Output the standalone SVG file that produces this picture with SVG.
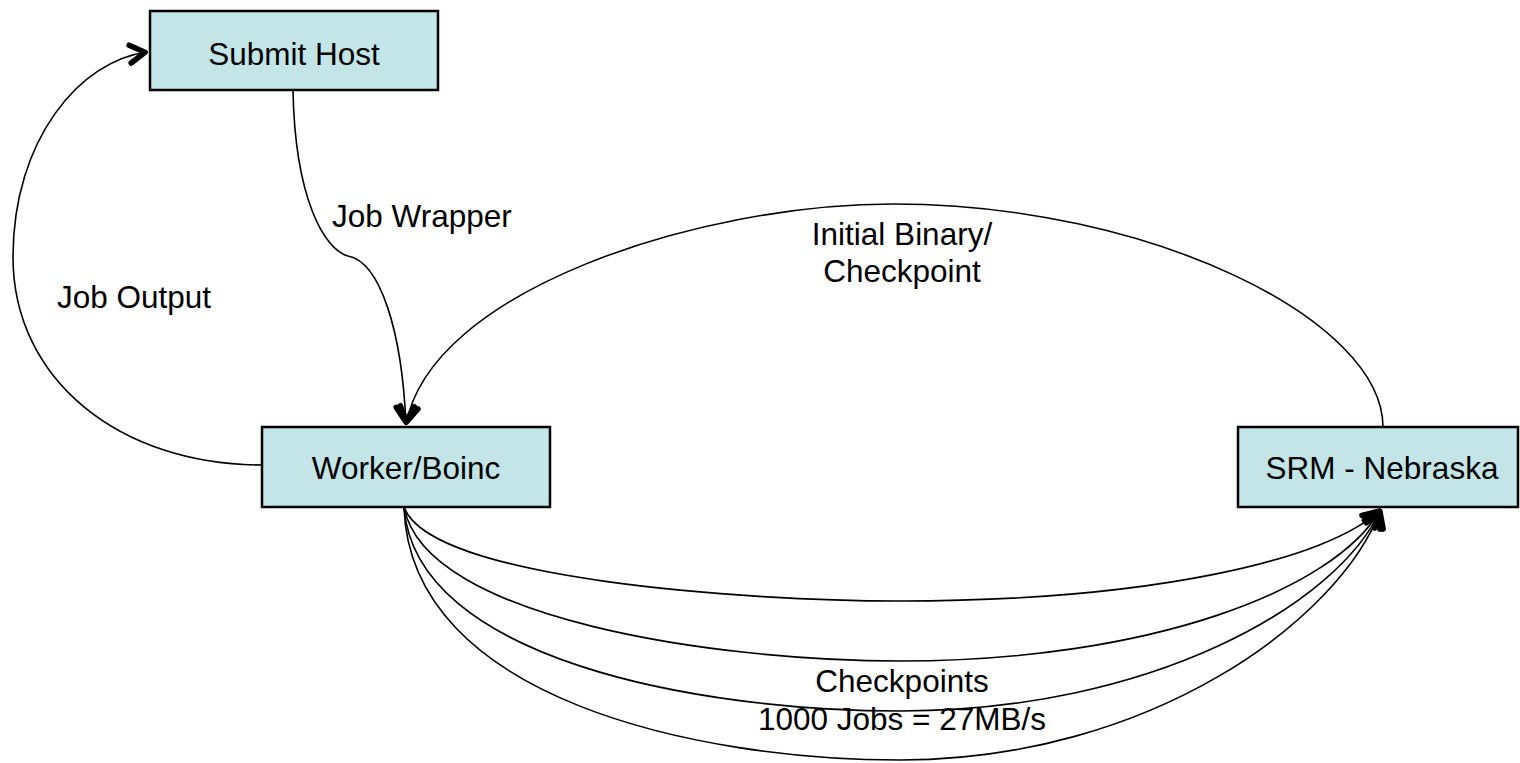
<svg xmlns="http://www.w3.org/2000/svg" width="1520" height="763" viewBox="0 0 1520 763">
  <style>
    .box { fill: #c4e5e8; stroke: #000; stroke-width: 2.5; }
    .lbl { font-family: "Liberation Sans", Arial, sans-serif; font-size: 31.5px; fill: #000; }
    .mid { text-anchor: middle; }
    .conn { fill: none; stroke: #000; stroke-width: 1.6; }
  </style>
  <defs>
    <marker id="arrow" markerUnits="userSpaceOnUse" viewBox="-26 -14 30 28" refX="0" refY="0" markerWidth="30" markerHeight="28" orient="auto" overflow="visible">
      <path d="M-18,-9 L-3,0 L-18,9" fill="none" stroke="#000" stroke-width="5.5" stroke-linejoin="round" stroke-linecap="round"/>
    </marker>
  </defs>
  <rect width="1520" height="763" fill="#fff"/>

  <g id="connectors">
    <path id="job-wrapper" class="conn" d="M293,90 C295,200 325,250 348,256 C380,262 402,330 406,425" marker-end="url(#arrow)"/>
    <path id="job-output" class="conn" d="M262,465 C120,465 13,380 13,257 C13,140 80,60 148,52" marker-end="url(#arrow)"/>
    <path id="initial-binary" class="conn" d="M1383,427 C1383,320 1150,204 893,204 C700,204 430,290 406,425" marker-end="url(#arrow)"/>
    <path id="checkpoint-1" class="conn" d="M404,507 C430,580 750,601 900,601 C1150,601 1330,560 1381,509" marker-end="url(#arrow)"/>
    <path id="checkpoint-2" class="conn" d="M404,507 C425,620 720,661 900,661 C1150,661 1335,590 1381,509" marker-end="url(#arrow)"/>
    <path id="checkpoint-3" class="conn" d="M404,507 C415,660 700,711 900,711 C1150,711 1338,605 1381,509" marker-end="url(#arrow)"/>
    <path id="checkpoint-4" class="conn" d="M404,507 C410,700 700,760 900,760 C1150,760 1340,620 1381,509" marker-end="url(#arrow)"/>
  </g>

  <g id="submit-host">
    <rect class="box" x="150" y="11" width="288" height="79"/>
    <text class="lbl mid" x="294" y="65">Submit Host</text>
  </g>
  <g id="worker-boinc">
    <rect class="box" x="262" y="427" width="288" height="80"/>
    <text class="lbl mid" x="406" y="479">Worker/Boinc</text>
  </g>
  <g id="srm-nebraska">
    <rect class="box" x="1238" y="427" width="280" height="80"/>
    <text class="lbl mid" x="1382" y="479">SRM - Nebraska</text>
  </g>

  <g id="labels">
    <text class="lbl" x="332" y="227">Job Wrapper</text>
    <text class="lbl" x="57" y="308">Job Output</text>
    <text class="lbl mid" x="902" y="245">Initial Binary/</text>
    <text class="lbl mid" x="902" y="282">Checkpoint</text>
    <text class="lbl mid" x="902" y="692">Checkpoints</text>
    <text class="lbl mid" x="902" y="730">1000 Jobs = 27MB/s</text>
  </g>
</svg>
